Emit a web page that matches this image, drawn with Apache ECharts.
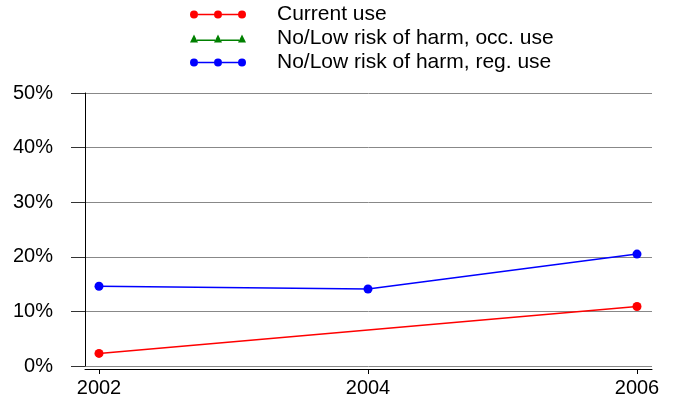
<!DOCTYPE html>
<html>
<head>
<meta charset="utf-8">
<script src="https://cdn.jsdelivr.net/npm/echarts@6/dist/echarts.min.js"></script>
<style>
html,body{margin:0;padding:0;background:#fff;}
#chart{width:673px;height:400px;}
</style>
</head>
<body>
<div id="chart"></div>
<script>
const years = [2002, 2004, 2006];
const seriesNames = ['Current use', 'No/Low risk of harm, occ. use', 'No/Low risk of harm, reg. use'];
const currentUse = [2.3, null, 10.9];
const occUse = [null, null, null];
const regUse = [14.6, 14.1, 20.5];
const yTicks = [0, 10, 20, 30, 40, 50];

const circleIcon = 'path://M8 3.3H24V4.7H8Z M32 3.3H48V4.7H32Z ' +
  'M0 4A4 4 0 1 0 8 4A4 4 0 1 0 0 4Z M24 4A4 4 0 1 0 32 4A4 4 0 1 0 24 4Z M48 4A4 4 0 1 0 56 4A4 4 0 1 0 48 4Z';
const triIcon = 'path://M7 5H25V6.4H7Z M31 5H49V6.4H31Z ' +
  'M4 0L8 8L0 8Z M28 0L32 8L24 8Z M52 0L56 8L48 8Z';

function pairs(vals){ return years.map((y,i)=>[y, vals[i]]); }

const chart = echarts.init(document.getElementById('chart'), null, {renderer:'canvas'});
const font = 'Liberation Sans, Arial, sans-serif';
chart.setOption({
  animation: false,
  textStyle: {fontFamily: font},
  legend: {
    orient: 'vertical',
    left: 190,
    top: 4,
    padding: 0,
    itemGap: 3,
    itemWidth: 56,
    itemHeight: 8,
    selectedMode: false,
    textStyle: {fontSize: 21, color: '#000', fontFamily: font, lineHeight: 21, padding: [0,0,0,26]},
    data: [
      {name: seriesNames[0], icon: circleIcon, itemStyle:{color:'#ff0000'}},
      {name: seriesNames[1], icon: triIcon, itemStyle:{color:'#008000'}},
      {name: seriesNames[2], icon: circleIcon, itemStyle:{color:'#0000ff'}}
    ]
  },
  grid: {left: 85, right: 21, top: 93, bottom: 34, containLabel: false},
  xAxis: {
    type: 'value',
    min: 2002 - 14/134.5,
    max: 2006 + 15/134.5,
    offset: 3,
    splitLine: {show: false},
    axisLine: {show: true, onZero: false, lineStyle: {color: '#000', width: 1}},
    axisTick: {show: true, length: 5, customValues: years, lineStyle: {color: '#000'}},
    axisLabel: {customValues: years, fontSize: 20, color: '#000', margin: 9, formatter: v => String(v)}
  },
  yAxis: {
    type: 'value',
    min: 0,
    max: 50,
    interval: 10,
    axisLine: {show: true, lineStyle: {color: '#000', width: 1}},
    axisTick: {show: true, inside: false, length: 14, lineStyle: {color: '#333'}},
    axisLabel: {fontSize: 20, color: '#000', margin: 32, formatter: v => yTicks.includes(v) ? v + '%' : ''},
    splitLine: {show: true, lineStyle: {color: '#888', width: 1}}
  },
  series: [
    {name: seriesNames[0], type: 'line', data: pairs(currentUse), connectNulls: true,
     symbol: 'circle', symbolSize: 9, color: '#ff0000', lineStyle: {width: 1.5, color: '#ff0000'}},
    {name: seriesNames[1], type: 'line', data: pairs(occUse), connectNulls: true,
     symbol: 'triangle', symbolSize: 9, color: '#008000', lineStyle: {width: 1.5, color: '#008000'}},
    {name: seriesNames[2], type: 'line', data: pairs(regUse), connectNulls: true,
     symbol: 'circle', symbolSize: 9, color: '#0000ff', lineStyle: {width: 1.5, color: '#0000ff'}}
  ]
});
</script>
</body>
</html>
